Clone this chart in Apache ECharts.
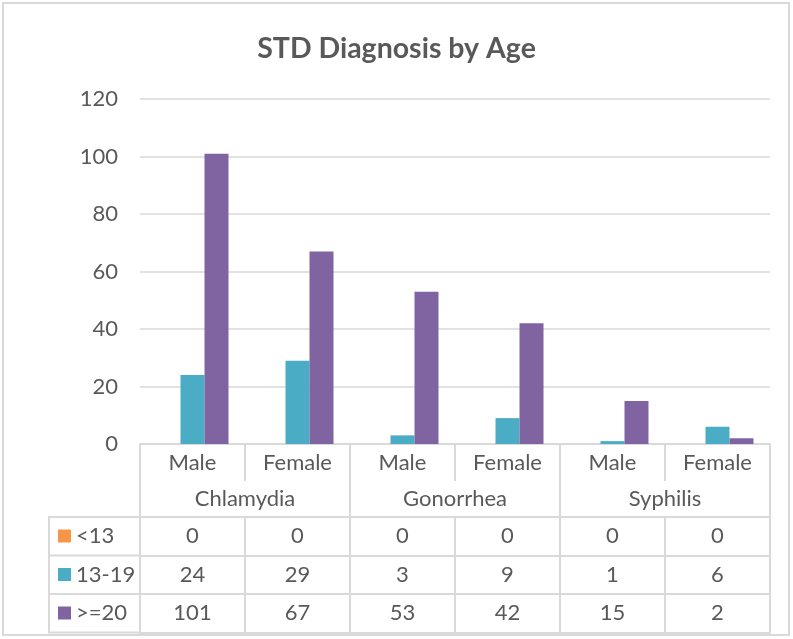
<!DOCTYPE html>
<html>
<head>
<meta charset="utf-8">
<script src="https://cdn.jsdelivr.net/npm/echarts@6/dist/echarts.min.js"></script>
<style>
  html, body { margin: 0; padding: 0; background: #fff; }
  #chart { width: 793px; height: 639px; }
</style>
</head>
<body>
<div id="chart"></div>
<script>
// 数据
var sexes = ['Male', 'Female', 'Male', 'Female', 'Male', 'Female'];
var diseases = ['Chlamydia', 'Gonorrhea', 'Syphilis'];
var seriesNames = ['<13', '13-19', '>=20'];
var lt13 = [0, 0, 0, 0, 0, 0];
var age13to19 = [24, 29, 3, 9, 1, 6];
var age20plus = [101, 67, 53, 42, 15, 2];
var yTicks = { min: 0, max: 120, interval: 20 };

var rows = [lt13, age13to19, age20plus];
var colors = ['#f79646', '#4bacc6', '#8064a2'];
var lineColor = '#d9d9d9';
var textColor = '#595959';
var fontFam = 'Lato, "Open Sans", sans-serif';
var fs = 22;
var rowH = 38.5;

var chart = echarts.init(document.getElementById('chart'));

// 表格的每一行都用一条 x 轴来画
var xAxes = [
  {
    type: 'category', data: sexes, position: 'bottom', offset: 0,
    axisLine: { show: true, lineStyle: { color: lineColor, width: 2 } },
    axisTick: { show: true, interval: 0, length: 37, lineStyle: { color: lineColor, width: 2 } },
    axisLabel: { interval: 0, margin: 8, color: textColor, fontSize: fs, fontFamily: fontFam }
  },
  {
    type: 'category', data: diseases, position: 'bottom', offset: 0,
    axisLine: { show: false },
    axisTick: { show: true, interval: 0, length: 73, lineStyle: { color: lineColor, width: 2 } },
    axisLabel: { interval: 0, margin: 44, color: textColor, fontSize: fs, fontFamily: fontFam }
  }
];
rows.forEach(function (vals, r) {
  xAxes.push({
    type: 'category', data: sexes, position: 'bottom', offset: 73 + r * rowH,
    axisLine: { show: true, lineStyle: { color: lineColor, width: 2 } },
    axisTick: { show: true, interval: 0, length: rowH, lineStyle: { color: lineColor, width: 2 } },
    axisLabel: {
      interval: 0, margin: 8, color: textColor, fontSize: fs, fontFamily: fontFam,
      formatter: function (v, i) { return String(vals[i]); }
    }
  });
});
// 最底下的边框线
xAxes.push({
  type: 'category', data: sexes, position: 'bottom', offset: 73 + 3 * rowH,
  axisLine: { show: true, lineStyle: { color: lineColor, width: 2 } },
  axisTick: { show: false }, axisLabel: { show: false }
});

var series = seriesNames.map(function (name, i) {
  return {
    name: name, type: 'bar', data: rows[i],
    barWidth: 24, barGap: 0,
    itemStyle: { color: colors[i] }
  };
});

var tableTop = 444 + 73;
var leftLines = [];
for (var k = 0; k <= 3; k++) {
  leftLines.push({
    type: 'line', silent: true,
    shape: { x1: 48, y1: tableTop + k * rowH, x2: 140, y2: tableTop + k * rowH },
    style: { stroke: lineColor, lineWidth: 2 }
  });
}
leftLines.push({
  type: 'line', silent: true,
  shape: { x1: 49, y1: tableTop, x2: 49, y2: tableTop + 3 * rowH },
  style: { stroke: lineColor, lineWidth: 2 }
});

chart.setOption({
  animation: false,
  title: {
    text: 'STD Diagnosis by Age',
    left: 'center', top: 29,
    textStyle: { color: textColor, fontSize: 28.5, fontWeight: 'bold', fontFamily: fontFam }
  },
  legend: {
    orient: 'vertical', left: 58, top: 524, padding: 0,
    data: seriesNames, icon: 'rect',
    itemWidth: 13, itemHeight: 13, itemGap: 14.5,
    textStyle: { color: textColor, fontSize: fs, fontFamily: fontFam, lineHeight: 24 },
    selectedMode: false
  },
  grid: { left: 140, right: 23, top: 99, bottom: 195 },
  xAxis: xAxes,
  yAxis: {
    type: 'value', min: yTicks.min, max: yTicks.max, interval: yTicks.interval,
    axisLine: { show: false }, axisTick: { show: false },
    splitLine: { lineStyle: { color: lineColor, width: 1.5 } },
    axisLabel: { margin: 22, color: textColor, fontSize: fs, fontFamily: fontFam }
  },
  series: series,
  graphic: [{
    type: 'rect', silent: true,
    shape: { x: 3, y: 3, width: 786, height: 632 },
    style: { fill: 'none', stroke: lineColor, lineWidth: 2 }
  }].concat(leftLines)
});
</script>
</body>
</html>
